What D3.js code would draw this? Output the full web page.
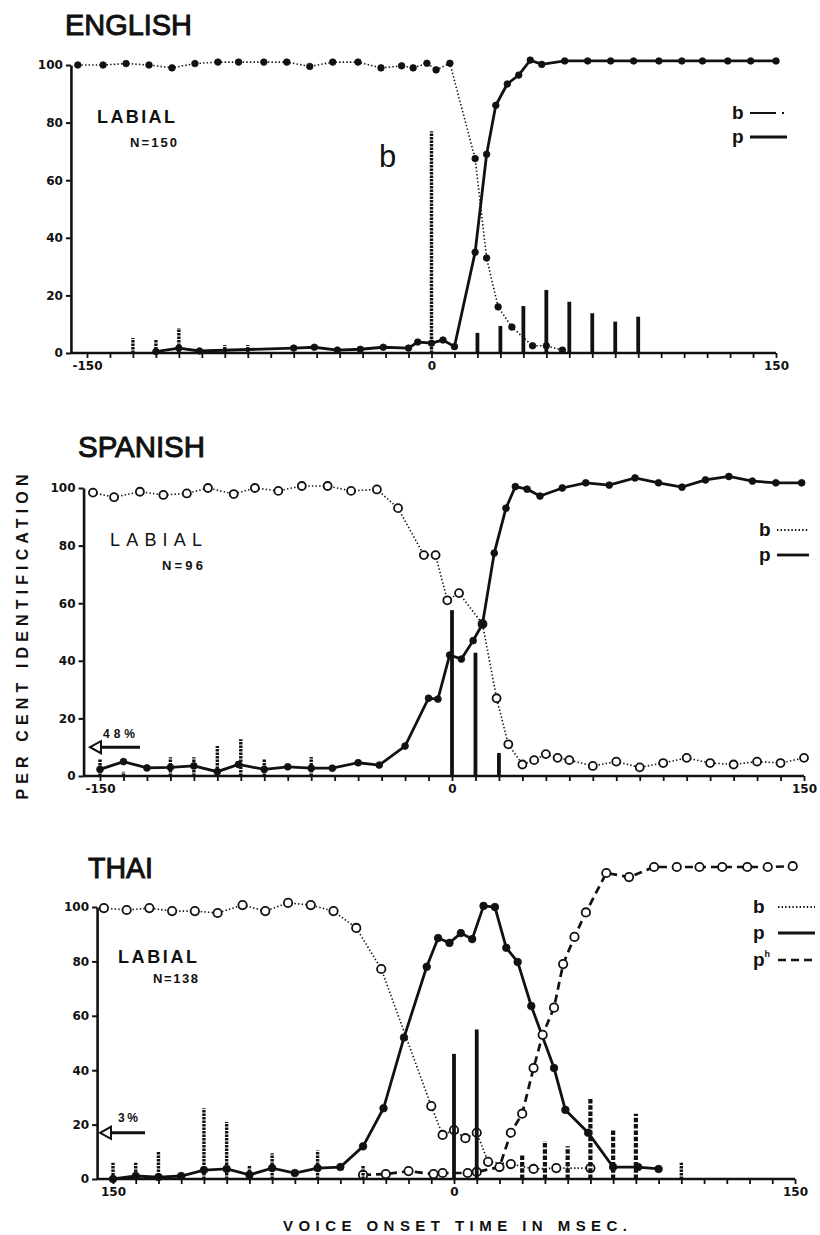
<!DOCTYPE html>
<html>
<head>
<meta charset="utf-8">
<script src="https://cdn.jsdelivr.net/npm/d3@7"></script>
<style>
  body { margin: 0; background: #fff; }
  svg text { font-family: "Liberation Sans", Arial, sans-serif; fill: #111; }
  .tick text { font-family: "DejaVu Sans", sans-serif; font-weight: bold; font-size: 12px; }
</style>
</head>
<body>
<svg id="chart" width="820" height="1235"></svg>
<script>
// ---- data (msec, per cent) ----
const xTicks = d3.range(-150, 151, 10);
const yTicks = [0, 20, 40, 60, 80, 100];

// English
const englishB = [[-154,100],[-143,100],[-133,100.5],[-123,100],[-113,99],[-103,100.5],[-93,101],[-84,101],[-73,101],[-63,101],[-53,99.5],[-43,101],[-32,101],[-22,99],[-13,99.7],[-8,99],[-2,100.6],[2,98.3],[8,100.6],[19,67.5],[24,33],[29,16],[35,9],[44,2.5],[50,2.5],[57,1]];
const englishP = [[-120,0.5],[-110,1.7],[-101,0.7],[-60,1.7],[-51,2],[-41,1],[-31,1.3],[-21,2],[-10,1.7],[-6,3.8],[0,3.4],[5,4.5],[10,2.2],[19,35],[24,69],[28,86],[33,93.4],[38,96.5],[43,101.7],[48,100.2],[58,101.4],[68,101.4],[78,101.4],[88,101.4],[99,101.4],[109,101.4],[118,101.4],[129,101.4],[139,101.4],[150,101.4]];
const englishBBars = [[-130,5.2],[-120,4.5],[-110,8.7],[-90,2.8],[-80,2.8],[0,77]];
const englishPBars = [[20,7],[30,9.4],[40,16.3],[50,21.9],[60,17.8],[70,13.8],[80,10.9],[90,12.6]];

// Spanish
const spanishB = [[-153,98.4],[-144,96.8],[-133,98.7],[-123,97.6],[-113,98.1],[-104,100],[-93,97.9],[-84,100],[-74,99],[-64,100.7],[-53,100.7],[-43,99],[-32,99.5],[-23,93],[-12,76.7],[-7,76.7],[-2,61],[3,63.5],[13,52.8],[19,27],[24,11],[30,4],[35,5.5],[40,7.6],[45,6.3],[50,5.5],[60,3.5],[70,5],[80,3],[90,4.5],[100,6.3],[110,4.5],[120,4],[130,5],[140,4.5],[150,6.3]];
const spanishP = [[-150,2.3],[-140,5],[-130,2.8],[-120,3],[-110,3.5],[-100,1.5],[-91,4],[-80,2.3],[-70,3.2],[-60,2.7],[-51,2.7],[-40,4.6],[-31,3.8],[-20,10.4],[-10,27],[-6,26.7],[-1,42],[4,40.6],[9,47],[13,52.8],[18,77.4],[23,93],[27,100.5],[32,99.6],[37.5,97.2],[47,100],[57,101.8],[67,101],[78,103.5],[88,101.8],[98,100.3],[108,102.8],[118,104],[128,102.4],[138,101.8],[149,101.8]];
const spanishBBars = [[-150,6],[-140,1.5],[-120,6.5],[-110,6.5],[-100,10.4],[-90,12.8],[-80,6],[-60,6.6]];
const spanishPBars = [[0,57.6],[10,42.8],[20,8]];

// Thai
const thaiB = [[-154,99.6],[-144,98.9],[-134,99.6],[-124,98.5],[-114,98.5],[-104,97.8],[-93,100.7],[-83,98.5],[-73,101.5],[-63,100.7],[-53,98.5],[-43,92.3],[-32,77.2],[-10,26.8],[-5,16.2],[0,18],[5,15],[10,17],[15,6.3],[25,5.5],[35,3.7],[45,4],[60,4]];
const thaiP = [[-150,0],[-140,1.1],[-130,0.7],[-120,1.1],[-110,3.3],[-100,3.7],[-90,1.5],[-80,4],[-70,2.2],[-60,4],[-50,4.4],[-40,12],[-31,26],[-22,52],[-12,78],[-7,88.6],[-2,86.8],[3,90.4],[8,88.2],[13,100.4],[18,100],[23,85],[28,79.8],[34,63.6],[44,40.8],[49,25.4],[59,17],[70,4.4],[81,4.4],[90,3.7]];
const thaiPh = [[-40,1.5],[-30,1.8],[-20,2.9],[-9,1.8],[-5,2.2],[6,2.2],[10,2.6],[20,4.4],[25,17],[30,24],[35,40.8],[39,53],[44,63],[48,79],[53,89],[58,98],[67,112.5],[77,111],[88,114.7],[98,114.7],[108,114.7],[118,114.7],[129,114.7],[138,114.7],[149,115]];
const thaiBBars = [[-150,6],[-140,6],[-130,10],[-110,26],[-100,21],[-90,5],[-80,9.5],[-60,10.5],[-40,5],[100,6]];
const thaiPBars = [[0,46],[10,55]];
const thaiPhBars = [[30,9],[40,14],[50,12],[60,30],[70,18],[80,24]];

const INK = "#111";

// line / bar styles per phoneme
const lineStyle = {
  b:  { dash: "1.4,2.2", width: 1.6 },
  p:  { dash: null,      width: 2.8 },
  ph: { dash: "8,5",     width: 2.7 }
};
const barStyle = {
  b:  { dash: "2.5,1", width: 3.4 },
  p:  { dash: null,    width: 3.8 },
  ph: { dash: "4.5,1.8", width: 4.2 }
};

const panels = [
  {
    title: "ENGLISH", titleX: 65, titleY: 35,
    left: 87, right: 776, top: 65, bottom: 353,
    xLabels: { "-150": "-150", "0": "0", "150": "150" },
    series: [
      { key: "b", data: englishB, marker: "filled", r: 3.3 },
      { key: "p", data: englishP, marker: "filled", r: 3.3 }
    ],
    bars: [ { key: "b", data: englishBBars }, { key: "p", data: englishPBars } ],
    labial: { x: 97, y: 123, w: 78, bold: true }, n: { text: "N=150", x: 130, y: 147, w: 47 },
    legend: { x: 732, lx0: 750, lx1: 787, rows: [ { t: "b", y: 113, dash: "26,6,2,6" }, { t: "p", y: 137 } ] }
  },
  {
    title: "SPANISH", titleX: 78, titleY: 457,
    left: 100, right: 804, top: 488, bottom: 776,
    xLabels: { "-150": "-150", "0": "0", "150": "150" },
    series: [
      { key: "b", data: spanishB, marker: "open", r: 4 },
      { key: "p", data: spanishP, marker: "filled", r: 3.4 }
    ],
    bars: [ { key: "b", data: spanishBBars }, { key: "p", data: spanishPBars } ],
    labial: { x: 110, y: 546, w: 92, bold: false }, n: { text: "N=96", x: 162, y: 570, w: 41 },
    legend: { x: 759, lx0: 777, lx1: 809, rows: [ { t: "b", y: 530 }, { t: "p", y: 555 } ] },
    arrow: { pct: 10, tip: 90, end: 140, text: "48%", tx: 103, ty: 738, tw: 32 }
  },
  {
    title: "THAI", titleX: 88, titleY: 878,
    left: 113, right: 795, top: 907, bottom: 1179,
    xLabels: { "-150": "150", "0": "0", "150": "150" },
    series: [
      { key: "b", data: thaiB, marker: "open", r: 4.2 },
      { key: "ph", data: thaiPh, marker: "open", r: 4.2 },
      { key: "p", data: thaiP, marker: "filled", r: 3.8 }
    ],
    bars: [ { key: "b", data: thaiBBars }, { key: "p", data: thaiPBars }, { key: "ph", data: thaiPhBars } ],
    labial: { x: 118, y: 963, w: 79, bold: true }, n: { text: "N=138", x: 153, y: 983, w: 45 },
    legend: { x: 753, lx0: 778, lx1: 815, rows: [ { t: "b", y: 907 }, { t: "p", y: 933 }, { t: "ph", y: 960 } ] },
    arrow: { pct: 17, tip: 100, end: 145, text: "3%", tx: 118, ty: 1122, tw: 20 }
  }
];

const svg = d3.select("#chart");

function drawPanel(p) {
  const x = d3.scaleLinear().domain([-150, 150]).range([p.left, p.right]);
  const y = d3.scaleLinear().domain([0, 100]).range([p.bottom, p.top]);
  const g = svg.append("g");
  const axisX = x(-157);

  // title
  g.append("text").attr("x", p.titleX).attr("y", p.titleY)
    .attr("font-size", 30).attr("stroke", INK).attr("stroke-width", 1)
    .attr("textLength", p.title.length > 4 ? 127 : 65).attr("lengthAdjust", "spacingAndGlyphs")
    .text(p.title);

  // y axis
  const ya = g.append("g").attr("transform", `translate(${axisX},0)`)
    .call(d3.axisLeft(y).tickValues(yTicks).tickSize(5).tickSizeOuter(0).tickPadding(3));
  ya.select(".domain").attr("stroke", INK).attr("stroke-width", 2.6);
  ya.selectAll(".tick line").attr("stroke", INK).attr("stroke-width", 2);
  ya.selectAll(".tick text").attr("fill", INK);

  // x axis
  const xa = g.append("g").attr("transform", `translate(0,${p.bottom})`)
    .call(d3.axisBottom(x).tickValues(xTicks).tickSize(5).tickSizeOuter(0).tickPadding(3)
      .tickFormat(d => p.xLabels[d] || ""));
  xa.select(".domain").remove();
  xa.append("line").attr("x1", axisX).attr("x2", x(150)).attr("stroke", INK).attr("stroke-width", 2.6);
  xa.selectAll(".tick line").attr("stroke", INK).attr("stroke-width", 1.8);
  xa.selectAll(".tick text").attr("fill", INK);

  // curves
  const line = d3.line().x(d => x(d[0])).y(d => y(d[1]));
  p.series.forEach(s => {
    const st = lineStyle[s.key];
    g.append("path").datum(s.data)
      .attr("fill", "none").attr("stroke", INK)
      .attr("stroke-width", st.width)
      .attr("stroke-dasharray", st.dash)
      .attr("d", line);
  });
  p.series.forEach(s => {
    g.selectAll(null).data(s.data).join("circle")
      .attr("cx", d => x(d[0])).attr("cy", d => y(d[1])).attr("r", s.r)
      .attr("fill", s.marker === "filled" ? INK : "#fff")
      .attr("stroke", INK).attr("stroke-width", s.marker === "filled" ? 0.8 : 1.8);
  });

  // response-distribution bars
  p.bars.forEach(b => {
    const st = barStyle[b.key];
    g.selectAll(null).data(b.data).join("line")
      .attr("x1", d => x(d[0])).attr("x2", d => x(d[0]))
      .attr("y1", y(0)).attr("y2", d => y(d[1]))
      .attr("stroke", INK).attr("stroke-width", st.width)
      .attr("stroke-dasharray", st.dash);
  });

  // LABIAL / N
  g.append("text").attr("x", p.labial.x).attr("y", p.labial.y)
    .attr("font-size", 18).attr("font-weight", p.labial.bold ? "bold" : "normal")
    .attr("textLength", p.labial.w).attr("lengthAdjust", "spacing").text("LABIAL");
  g.append("text").attr("x", p.n.x).attr("y", p.n.y)
    .attr("font-size", 13).attr("font-weight", "bold")
    .attr("textLength", p.n.w).attr("lengthAdjust", "spacing").text(p.n.text);

  // legend
  p.legend.rows.forEach(r => {
    const t = g.append("text").attr("x", p.legend.x).attr("y", r.y + 6)
      .attr("font-size", 19).attr("font-weight", "bold").text("p");
    if (r.t === "b") t.text("b");
    if (r.t === "ph") t.append("tspan").attr("font-size", 9).attr("dy", -9).text("h");
    const st = lineStyle[r.t];
    g.append("line").attr("x1", p.legend.lx0).attr("x2", p.legend.lx1)
      .attr("y1", r.y).attr("y2", r.y).attr("stroke", INK)
      .attr("stroke-width", r.t === "b" ? 2 : st.width)
      .attr("stroke-dasharray", r.dash || st.dash);
  });

  // off-scale arrow
  if (p.arrow) {
    const a = p.arrow, ay = y(a.pct);
    g.append("line").attr("x1", a.tip + 10).attr("x2", a.end).attr("y1", ay).attr("y2", ay)
      .attr("stroke", INK).attr("stroke-width", 3);
    g.append("path")
      .attr("d", `M${a.tip},${ay} L${a.tip + 11},${ay - 6} L${a.tip + 11},${ay + 6} Z`)
      .attr("fill", "#fff").attr("stroke", INK).attr("stroke-width", 2);
    g.append("text").attr("x", a.tx).attr("y", a.ty)
      .attr("font-size", 12).attr("font-weight", "bold")
      .attr("textLength", a.tw).attr("lengthAdjust", "spacing").text(a.text);
  }
  return { x, y, g };
}

const drawn = panels.map(drawPanel);

// big "b" marking the English /b/ distribution
svg.append("text").attr("x", 379).attr("y", 167).attr("font-size", 31).text("b");

// shared axis titles
svg.append("text")
  .attr("transform", "translate(28,637) rotate(-90)")
  .attr("text-anchor", "middle")
  .attr("font-family", "DejaVu Sans").attr("font-weight", "bold").attr("font-size", 16)
  .attr("textLength", 325).attr("lengthAdjust", "spacing")
  .text("PER CENT IDENTIFICATION");

svg.append("text")
  .attr("x", 283).attr("y", 1231)
  .attr("font-family", "DejaVu Sans").attr("font-weight", "bold").attr("font-size", 15)
  .attr("textLength", 344).attr("lengthAdjust", "spacing")
  .text("VOICE ONSET TIME IN MSEC.");
</script>
</body>
</html>
